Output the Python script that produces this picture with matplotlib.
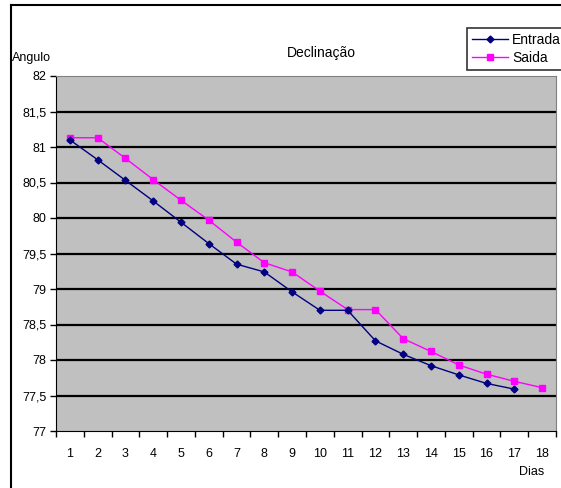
import matplotlib
matplotlib.use("Agg")
import matplotlib.pyplot as plt
from matplotlib.lines import Line2D

dias = list(range(1, 19))
entrada = [81.10, 80.82, 80.53, 80.24, 79.94, 79.64, 79.35, 79.24, 78.96,
           78.70, 78.70, 78.27, 78.08, 77.92, 77.79, 77.67, 77.59]
saida = [81.13, 81.13, 80.84, 80.54, 80.25, 79.97, 79.66, 79.37, 79.24,
         78.97, 78.71, 78.71, 78.30, 78.12, 77.93, 77.80, 77.70, 77.61]
y_ticks = [77, 77.5, 78, 78.5, 79, 79.5, 80, 80.5, 81, 81.5, 82]

W, H = 561, 488
plt.rcParams['font.family'] = ['Liberation Sans', 'DejaVu Sans']

fig = plt.figure(figsize=(W / 100, H / 100), dpi=100)
fig.patch.set_facecolor('white')

# plot area in pixels: left 56, right 556, top 76, bottom 431
ax = fig.add_axes([56 / W, 1 - 431 / H, 500 / W, 355 / H])
ax.set_facecolor('#C0C0C0')

for y in y_ticks[1:-1]:
    ax.axhline(y, color='black', lw=1.6, zorder=1)

ax.plot(dias[:len(entrada)], entrada, color='#000080', lw=1, marker='D',
        ms=3.5, label='Entrada', zorder=3)
ax.plot(dias, saida, color='#FF00FF', lw=1, marker='s',
        ms=4, label='Saida', zorder=2)

ax.set_xlim(0.5, 18.5)
ax.set_ylim(77, 82)

ax.set_yticks(y_ticks)
ax.set_yticklabels([f"{v:g}".replace('.', ',') for v in y_ticks], fontsize=9)
ax.tick_params(axis='y', length=4, width=1, pad=3)

ax.set_xticks([d - 0.5 for d in dias] + [18.5])
ax.set_xticklabels([])
ax.set_xticks(dias, minor=True)
ax.set_xticklabels([str(d) for d in dias], minor=True, fontsize=9)
ax.tick_params(axis='x', which='major', length=4, width=1)
ax.tick_params(axis='x', which='minor', length=0, pad=12)

ax.spines['left'].set_color('black')
ax.spines['bottom'].set_color('black')
ax.spines['top'].set_color('#808080')
ax.spines['right'].set_color('#808080')

fig.text(321 / W, 1 - 53 / H, 'Declinação', ha='center', va='center', fontsize=10)
fig.text(12 / W, 1 - 58 / H, 'Angulo', ha='left', va='center', fontsize=9)
fig.text(532 / W, 1 - 472 / H, 'Dias', ha='center', va='center', fontsize=9)

leg = fig.legend(loc='upper left', bbox_to_anchor=(467 / W, 1 - 28 / H),
                 fontsize=10, frameon=True, fancybox=False, edgecolor='black',
                 handlelength=2.6, handletextpad=0.3, borderpad=0.35,
                 labelspacing=0.3, borderaxespad=0)
leg.get_frame().set_linewidth(1.2)

# outer chart border (cut off on the right and bottom)
fig.add_artist(Line2D([11 / W, 11 / W], [0, 1 - 5 / H], color='black', lw=1.5,
                      transform=fig.transFigure))
fig.add_artist(Line2D([11 / W, 1], [1 - 5 / H, 1 - 5 / H], color='black', lw=1.5,
                      transform=fig.transFigure))

fig.savefig('out.png', dpi=100)
